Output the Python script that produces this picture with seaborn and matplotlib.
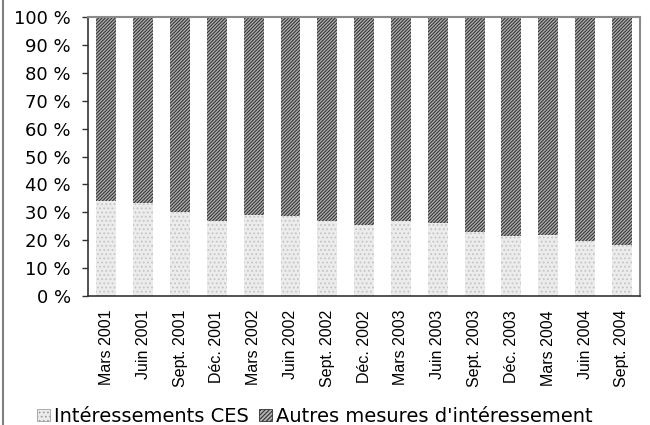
import numpy as np
import pandas as pd
import matplotlib
matplotlib.use("Agg")
import matplotlib.pyplot as plt
import seaborn as sns
from matplotlib.patches import Patch
from matplotlib.lines import Line2D

periods = ["Mars 2001", "Juin 2001", "Sept. 2001", "Déc. 2001",
           "Mars 2002", "Juin 2002", "Sept. 2002", "Déc. 2002",
           "Mars 2003", "Juin 2003", "Sept. 2003", "Déc. 2003",
           "Mars 2004", "Juin 2004", "Sept. 2004"]
ces = [34.2, 33.2, 30.2, 26.9, 29.1, 28.8, 26.9, 25.4,
       27.0, 26.3, 23.1, 21.5, 22.0, 19.8, 18.3]
autres = [100 - v for v in ces]
y_ticks = list(range(0, 101, 10))

sns.set_style("white")
plt.rcParams['font.family'] = ['DejaVu Sans']
plt.rcParams['hatch.linewidth'] = 0.8
plt.rcParams['text.color'] = 'black'

df = pd.DataFrame({"periode": periods, "ces": ces,
                   "total": [c + a for c, a in zip(ces, autres)]})

fig = plt.figure(figsize=(6.5, 4.25), dpi=100)
ax = fig.add_axes([0.1354, 0.3035, 0.8496, 0.6565])

# stacked bars: full height first, then the CES share drawn over it
sns.barplot(data=df, x="periode", y="total", ax=ax, color="#b4b4b4",
            width=0.54, hatch="/" * 10, edgecolor="#333333", linewidth=0)
sns.barplot(data=df, x="periode", y="ces", ax=ax, color="#ececec",
            width=0.54, hatch="....", edgecolor="#c4c4c4", linewidth=0)

ax.set_xlim(-0.5, len(periods) - 0.5)
ax.set_ylim(0, 100)
ax.set_yticks(y_ticks)
ax.set_yticklabels([f"{t} %" for t in y_ticks], fontsize=13)
ax.set_xticks(range(len(periods)))
ax.set_xticklabels(periods, rotation=90, fontsize=11.5,
                   family=['Liberation Sans', 'DejaVu Sans'])
ax.set_xticks(np.arange(-0.5, len(periods), 1), minor=True)
ax.tick_params(axis="x", which="major", length=0, pad=10, labelcolor="black")
ax.tick_params(axis="x", which="minor", length=4.5, width=1, color="#333333", direction="out")
ax.tick_params(axis="y", length=4.5, width=1, color="#333333", direction="out", left=True,
               pad=8, labelcolor="black")
ax.set_xlabel("")
ax.set_ylabel("")

for side in ["left", "bottom"]:
    ax.spines[side].set_color("#333333")
    ax.spines[side].set_linewidth(1.2)
for side in ["top", "right"]:
    ax.spines[side].set_visible(True)
    ax.spines[side].set_color("#8a8a8a")
    ax.spines[side].set_linewidth(1.5)

fig.add_artist(Line2D([0.004, 0.004], [0, 1], transform=fig.transFigure,
                      color="#808080", linewidth=1.5))

handles = [Patch(facecolor="#ececec", hatch="....", edgecolor="#a0a0a0", linewidth=0.6,
                 label="Intéressements CES"),
           Patch(facecolor="#b4b4b4", hatch="/" * 8, edgecolor="#333333", linewidth=0.6,
                 label="Autres mesures d'intéressement")]
fig.legend(handles=handles, loc="center left", bbox_to_anchor=(37 / 650, 0.02),
           ncol=2, frameon=False, fontsize=14, handlelength=0.65, handleheight=0.6,
           handletextpad=0.2, columnspacing=0.55, borderaxespad=0, borderpad=0)

fig.savefig("out.png", dpi=100)
